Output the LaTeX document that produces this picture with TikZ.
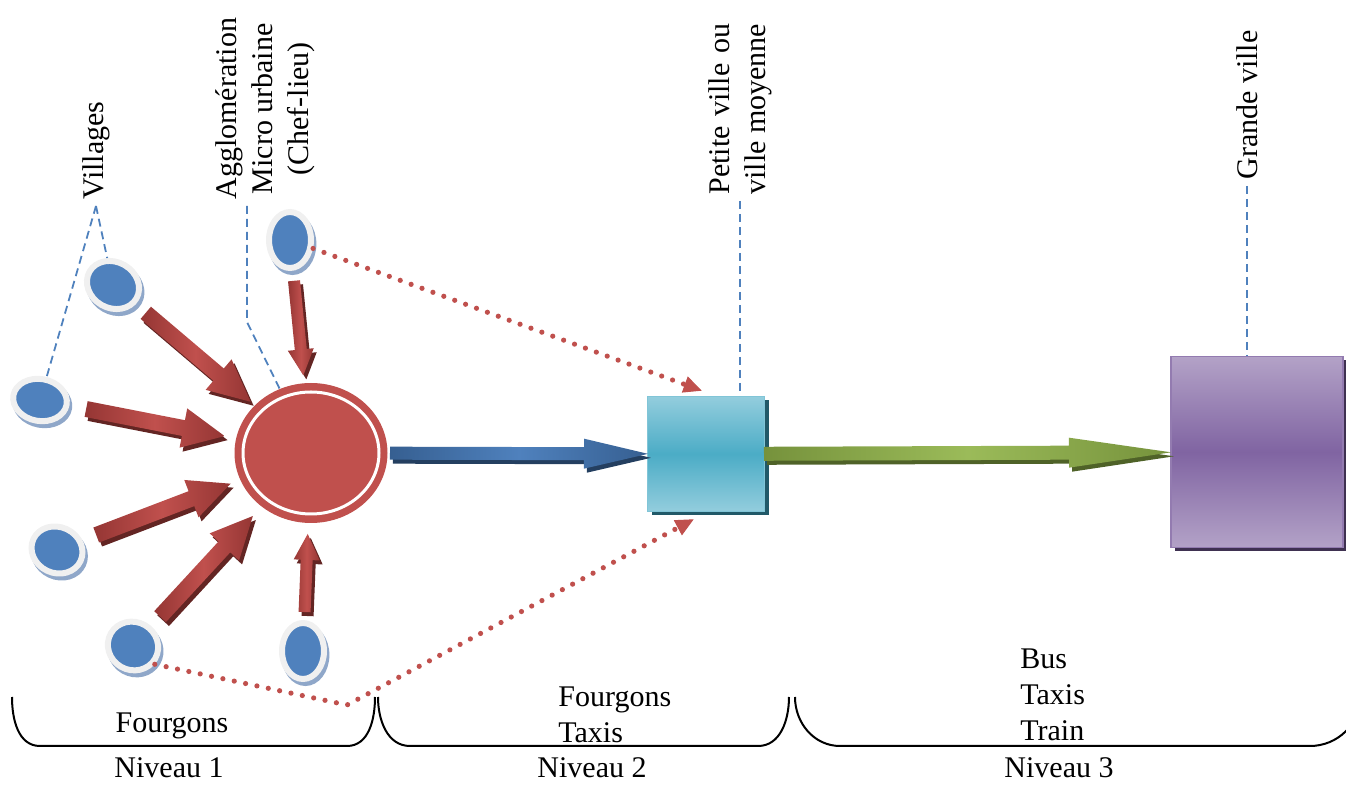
\documentclass[tikz,border=0pt]{standalone}
\usepackage{fontspec}
\setmainfont{Liberation Serif}
\usepackage{calc}
\usetikzlibrary{shapes.geometric,shadows,arrows.meta,calc}
\definecolor{coinblue}{HTML}{4F81BD}
\definecolor{coinrim}{HTML}{F0F0F0}
\definecolor{coinedge}{HTML}{8FA7C9}
\definecolor{hubred}{HTML}{C0504D}
\definecolor{redmid}{HTML}{C0504D}
\definecolor{redend}{HTML}{953634}
\definecolor{redshadow}{HTML}{632523}
\definecolor{bluemid}{HTML}{4F81BD}
\definecolor{blueend}{HTML}{365F91}
\definecolor{blueshadow}{HTML}{243F60}
\definecolor{greenmid}{HTML}{9BBB59}
\definecolor{greenend}{HTML}{76923C}
\definecolor{greenshadow}{HTML}{4F6228}
\definecolor{cyanmid}{HTML}{4BACC6}
\definecolor{cyanlight}{HTML}{93CDDD}
\definecolor{cyanshadow}{HTML}{215968}
\definecolor{purplemid}{HTML}{8064A2}
\definecolor{purplelight}{HTML}{B3A2C7}
\definecolor{purpleshadow}{HTML}{3F3151}

\newcommand{\fatarrow}[5]{%
 \pgfpointdiff{\pgfpointanchor{#2}{center}}{\pgfpointanchor{#3}{center}}%
 \pgfgetlastxy{\arrdx}{\arrdy}%
 \pgfmathsetmacro\arrang{atan2(\arrdy,\arrdx)}%
 \pgfmathsetmacro\arrlen{veclen(\arrdx,\arrdy)-#4-#5}%
 \pgfmathsetmacro\arrbase{\arrlen-\arrhl}%
 \fill[#1shadow,shift={(#2.center)},shift={(1.5pt,-2pt)},rotate=\arrang,xshift=#4pt]
 (0pt,-\arrsw pt)--(\arrbase pt,-\arrsw pt)--(\arrbase pt,-\arrhw pt)--(\arrlen pt,0pt)
 --(\arrbase pt,\arrhw pt)--(\arrbase pt,\arrsw pt)--(0pt,\arrsw pt)--cycle;
 \shade[left color=#1end,right color=#1end,middle color=#1mid,
 shift={(#2.center)},rotate=\arrang,xshift=#4pt]
 (0pt,-\arrsw pt)--(\arrbase pt,-\arrsw pt)--(\arrbase pt,-\arrhw pt)--(\arrlen pt,0pt)
 --(\arrbase pt,\arrhw pt)--(\arrbase pt,\arrsw pt)--(0pt,\arrsw pt)--cycle;}

\begin{document}
\begin{tikzpicture}[x=0.5pt,y=-0.5pt,
 coin/.style={ellipse,inner sep=0pt,fill=coinblue,draw=coinrim,line width=3pt,
 general shadow={fill=coinrim,draw=coinedge,line width=3pt,shadow xshift=1.2pt,shadow yshift=-2pt}},
 leader/.style={coinblue,line width=0.9pt,dash pattern=on 4pt off 2.5pt},
 dotline/.style={hubred,line width=2.6pt,line cap=round,dash pattern=on 0pt off 5.8pt,
 -{Triangle[length=9pt,width=8.5pt,line width=0.5pt]}},
 lab/.style={font=\fontsize{15}{18}\selectfont},
 vlab/.style={lab,rotate=90,anchor=west,align=center,inner sep=3pt},
 bracket/.style={line width=1pt}]
 \useasboundingbox (0,0) rectangle (1346,785);
 \clip (0,0) rectangle (1346,785);
 \node[vlab] (vill) at (96,206) {Villages};
 \node[vlab] (agglo) at (265,206) {Agglomération\\Micro urbaine\\(Chef-lieu)};
 \node[vlab] (petlab) at (740,201) {\makebox[\widthof{ville moyenne}][s]{Petite ville ou}\\ville moyenne};
 \node[vlab] (granlab) at (1247,186) {Grande ville};
 \node[ellipse,fill=hubred,minimum width=76.5pt,minimum height=70pt,inner sep=0pt] (hub) at (311,453) {};
 \draw[white,line width=1.5pt] (hub.center) ellipse[x radius=34pt,y radius=30.5pt];
 \node[draw=cyanmid!70!white,line width=0.8pt,top color=cyanlight,bottom color=cyanlight,middle color=cyanmid,
 minimum width=58.5pt,minimum height=57.5pt,inner sep=0pt,
 drop shadow={shadow xshift=2pt,shadow yshift=-2pt,fill=cyanshadow,opacity=1}] (petite) at (706,454) {};
 \node[draw=purplemid!85!white,line width=0.8pt,top color=purplelight,bottom color=purplelight,middle color=purplemid,
 minimum width=86pt,minimum height=95.5pt,inner sep=0pt,
 drop shadow={shadow xshift=2pt,shadow yshift=-2pt,fill=purpleshadow,opacity=1}] (grande) at (1257,452) {};
 \foreach \n/\x/\y/\r/\w/\h in {v1/113/285/-30/27/23,v2/40/400/-10/27/21,v3/57/550/-25/26/23,
 v4/133/646/-30/25.5/24,v5/303/651/0/21/28,chef/290/240/0/21/28}
 \node[coin,rotate=\r,minimum width=\w pt,minimum height=\h pt] (\n) at (\x,\y) {};
 \draw[leader] (vill.west) -- (v2);
 \draw[leader] (vill.west) -- (v1);
 \draw[leader] ([xshift=-9pt]agglo.west) -- ++(0,116) -- (hub);
 \draw[leader] (petlab.west) -- (petlab.west |- petite.north);
 \draw[leader] (granlab.west) -- (granlab.west |- grande.north);
 \draw[dotline] (chef) -- ($(petite.north west)+(55,-5)$);
 \coordinate (bend) at (347,705);
 \draw[dotline] (v4.-10) -- (bend) -- ($(petite.south west)+(47,7)$);
 \def\arrsw{4}\def\arrhw{10}\def\arrhl{21}
 \fatarrow{red}{v1}{hub}{21.5}{39.5}
 \fatarrow{red}{v2}{hub}{23.5}{44}
 \fatarrow{red}{v3}{hub}{21}{43}
 \fatarrow{red}{v4}{hub}{20}{42.5}
 \def\arrsw{3}\def\arrhw{6.5}\def\arrhl{13}
 \fatarrow{red}{v5}{hub}{19.5}{40.5}
 \fatarrow{red}{chef}{hub}{20.5}{39}
 \def\arrsw{3.25}\def\arrhw{7.5}\def\arrhl{32}
 \fatarrow{blue}{hub}{petite}{39.5}{29}
 \def\arrsw{3.5}\def\arrhw{7.5}\def\arrhl{51}
 \fatarrow{green}{petite}{grande}{29}{43}
 \draw[bracket] (12,697) to[out=-90,in=180] (40,746) -- (347,746) to[out=0,in=-90] (375,697);
 \draw[bracket] (378,697) to[out=-90,in=180] (410,746) -- (758,746) to[out=0,in=-90] (789,697);
 \draw[bracket] (795,697) to[out=-90,in=180] (840,746) -- (1310,746) to[out=0,in=-90] (1360,697);
 \node[lab,anchor=base] (mode1) at (172,733) {Fourgons};
 \node[lab,anchor=north west,align=left,inner sep=0pt] (mode2) at (558,686) {Fourgons\\Taxis};
 \node[lab,anchor=north west,align=left,inner sep=0pt] (mode3) at (1020,648) {Bus\\Taxis\\Train};
 \node[lab,anchor=base] (niv1) at (169,778) {Niveau 1};
 \node[lab,anchor=base] (niv2) at (592,778) {Niveau 2};
 \node[lab,anchor=base] (niv3) at (1059,778) {Niveau 3};
\end{tikzpicture}
\end{document}
